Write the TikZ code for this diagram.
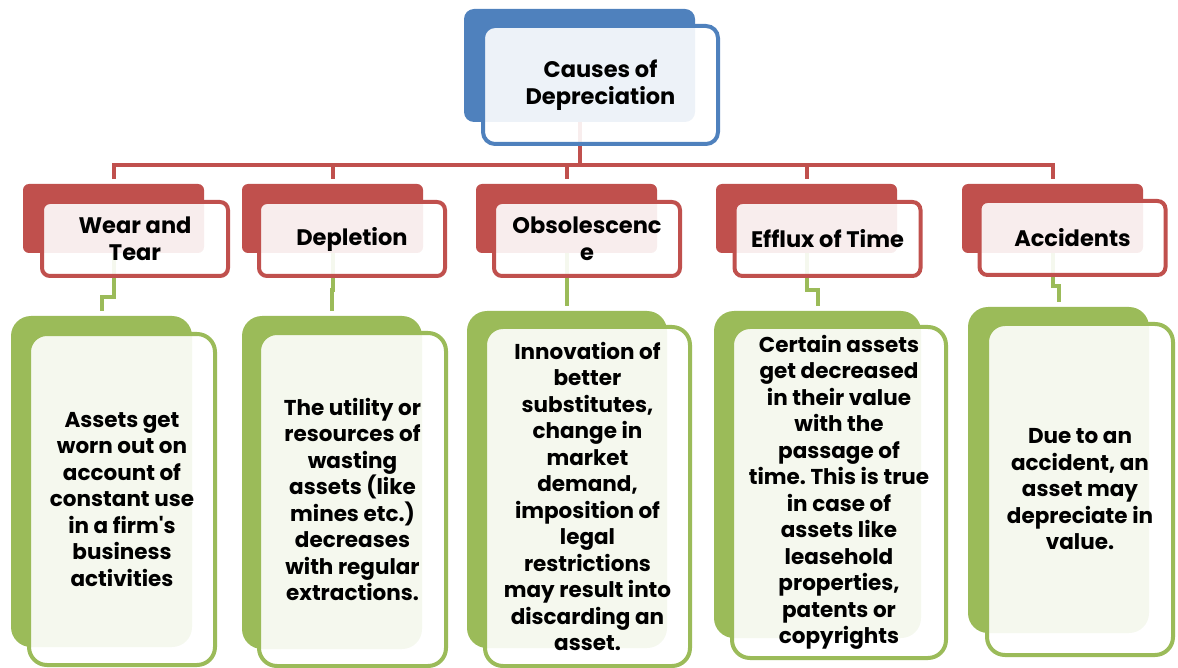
\documentclass[tikz,border=0pt]{standalone}
\usepackage{fontspec}
\setmainfont{Poppins}[BoldFont={Poppins Bold}]
\definecolor{blau}{HTML}{4F81BD}
\definecolor{rot}{HTML}{C0504D}
\definecolor{gruen}{HTML}{9BBB59}
\frenchspacing
\begin{document}
\begin{tikzpicture}[x=1pt,y=-1pt,
		back/.style={fill=#1, inner sep=0pt, outer sep=0pt},
		front/.style={draw=#1, line width=4pt, fill=white, fill opacity=0.9, text opacity=1,
			inner sep=0pt, outer sep=0pt, align=center, font=\bfseries\fontsize{21.5}{26.5}\selectfont},
		rline/.style={draw=rot, line width=4pt, shorten >=5pt},
		gline/.style={draw=gruen, line width=4pt, shorten >=5pt}]
			\useasboundingbox (0,0) rectangle (1178,668);
			
			% Zeichnet die hinteren Flaechen (oben, Ursachen, Erklaerungen)
			\node[back=blau, rounded corners=10pt, minimum width=231pt, minimum height=113pt] (tb) at (579.5,65.5) {};
			\node[back=rot, rounded corners=6pt, minimum width=181pt, minimum height=69pt] (rb1) at (113.5,218.5) {};
			\node[back=rot, rounded corners=6pt, minimum width=181pt, minimum height=69pt] (rb2) at (332.5,218.5) {};
			\node[back=rot, rounded corners=6pt, minimum width=181pt, minimum height=69pt] (rb3) at (566.5,218.5) {};
			\node[back=rot, rounded corners=6pt, minimum width=181pt, minimum height=69pt] (rb4) at (806.5,218.5) {};
			\node[back=rot, rounded corners=6pt, minimum width=181pt, minimum height=69pt] (rb5) at (1052.5,218.5) {};
			\node[back=gruen, rounded corners=20pt, minimum width=181pt, minimum height=331pt] (gb1) at (101.5,481.5) {};
			\node[back=gruen, rounded corners=20pt, minimum width=180pt, minimum height=333pt] (gb2) at (332,482.5) {};
			\node[back=gruen, rounded corners=20pt, minimum width=200pt, minimum height=337pt] (gb3) at (567,479.5) {};
			\node[back=gruen, rounded corners=20pt, minimum width=207pt, minimum height=327pt] (gb4) at (817.5,474.5) {};
			\node[back=gruen, rounded corners=20pt, minimum width=181pt, minimum height=326pt] (gb5) at (1058.5,470) {};
			
			% Zeichnet die Verbindungen von oben zu den Ursachen
			\foreach \i in {1,...,5}
				\draw[rline] (tb.south) -- ++(0,43) -| (rb\i.north);
			
			% Zeichnet die Verbindungen von den Ursachen zu den Erklaerungen
			\foreach \i/\jog in {1/297,2/290,3/290,4/290,5/286}
				\draw[gline] (rb\i.south) -- (rb\i.south |- 0,\jog) -| (gb\i.north);
			
			% Zeichnet die vorderen Kaesten mit Text
			\node[front=blau, rounded corners=12pt, minimum width=235pt, minimum height=118pt,
				font=\bfseries\fontsize{22.5}{27}\selectfont] (tf) at (600.5,85) {Causes of\\Depreciation};
			
			\node[front=rot, rounded corners=8pt, minimum width=186pt, minimum height=74pt,
				font=\bfseries\fontsize{22.5}{27}\selectfont] (rf1) at (135,239) {Wear and\\Tear};
			\node[front=rot, rounded corners=8pt, minimum width=186pt, minimum height=74pt,
				font=\bfseries\fontsize{22.5}{27}\selectfont] (rf2) at (352,239) {Depletion};
			\node[front=rot, rounded corners=8pt, minimum width=186pt, minimum height=74pt,
				font=\bfseries\fontsize{22.5}{27}\selectfont] (rf3) at (587,239) {Obsolescenc\\e};
			\node[front=rot, rounded corners=8pt, minimum width=186pt, minimum height=74pt,
				font=\bfseries\fontsize{22.5}{27}\selectfont] (rf4) at (827.5,239) {Efflux of Time};
			\node[front=rot, rounded corners=8pt, minimum width=186pt, minimum height=74pt,
				font=\bfseries\fontsize{22.5}{27}\selectfont] (rf5) at (1072.5,238) {Accidents};
			
			\node[front=gruen, rounded corners=18pt, minimum width=186pt, minimum height=331pt] (gf1) at (122,499.5)
				{Assets get\\worn out on\\account of\\constant use\\in a firm\textquotesingle s\\business\\activities};
			\node[front=gruen, rounded corners=18pt, minimum width=187pt, minimum height=333pt] (gf2) at (352.5,499.5)
				{The utility or\\resources of\\wasting\\assets (like\\mines etc.)\\decreases\\with regular\\extractions.};
			\node[front=gruen, rounded corners=18pt, minimum width=205pt, minimum height=339pt] (gf3) at (587.5,496.5)
				{Innovation of\\better\\substitutes,\\change in\\market\\demand,\\imposition of\\legal\\restrictions\\may result into\\discarding an\\asset.};
			\node[front=gruen, rounded corners=18pt, minimum width=214pt, minimum height=331pt] (gf4) at (839,492.5)
				{Certain assets\\get decreased\\in their value\\with the\\passage of\\time. This is true\\in case of\\assets like\\leasehold\\properties,\\patents or\\copyrights};
			\node[front=gruen, rounded corners=18pt, minimum width=186pt, minimum height=331pt] (gf5) at (1080,489.5)
				{Due to an\\accident, an\\asset may\\depreciate in\\value.};
		\end{tikzpicture}
\end{document}
